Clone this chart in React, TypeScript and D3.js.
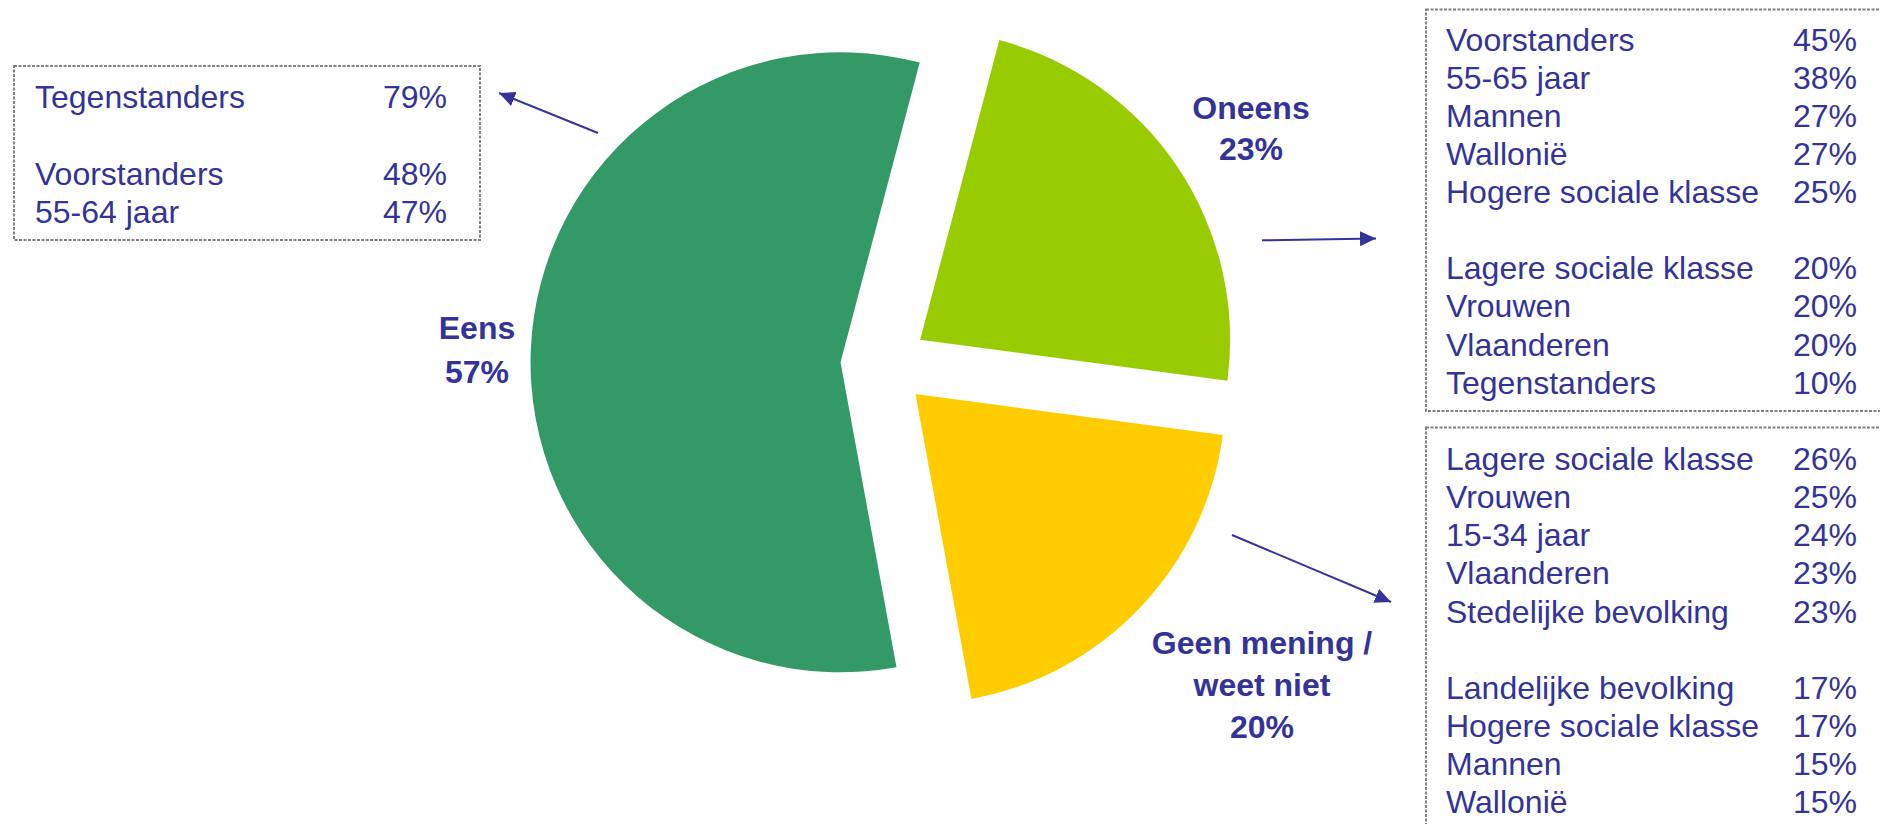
import React from "react";
import * as d3 from "d3";

// ---- data ----
const sliceNames = ["Oneens", "Geen mening / weet niet", "Eens"];
const sliceValues = [23, 20, 57];

const leftBoxLabels = ["Tegenstanders", "", "Voorstanders", "55-64 jaar"];
const leftBoxValues: (number | null)[] = [79, null, 48, 47];

const topRightLabels = [
  "Voorstanders",
  "55-65 jaar",
  "Mannen",
  "Wallonië",
  "Hogere sociale klasse",
  "",
  "Lagere sociale klasse",
  "Vrouwen",
  "Vlaanderen",
  "Tegenstanders",
];
const topRightValues: (number | null)[] = [45, 38, 27, 27, 25, null, 20, 20, 20, 10];

const bottomRightLabels = [
  "Lagere sociale klasse",
  "Vrouwen",
  "15-34 jaar",
  "Vlaanderen",
  "Stedelijke bevolking",
  "",
  "Landelijke bevolking",
  "Hogere sociale klasse",
  "Mannen",
  "Wallonië",
];
const bottomRightValues: (number | null)[] = [26, 25, 24, 23, 23, null, 17, 17, 15, 15];

// ---- styles / layout ----
const W = 1880;
const H = 824;
const sliceColors = ["#99CC00", "#FFCC00", "#339966"];
const textColor = "#333399";
const font = "'Liberation Sans', Arial, sans-serif";
const cx = 884;
const cy = 364;
const radius = 310;
const explode = 43.5;
const startDeg = 14.8;

type Box = {
  x: number;
  y: number;
  w: number;
  h: number;
  textX: number;
  valueX: number;
  firstBaseline: number;
  lineH: number;
  labels: string[];
  values: (number | null)[];
};

const boxes: Box[] = [
  {
    x: 14, y: 66, w: 466, h: 174, textX: 35, valueX: 447,
    firstBaseline: 108.3, lineH: 38.3, labels: leftBoxLabels, values: leftBoxValues,
  },
  {
    x: 1426, y: 9.5, w: 470, h: 401.5, textX: 1446, valueX: 1857,
    firstBaseline: 50.7, lineH: 38.1, labels: topRightLabels, values: topRightValues,
  },
  {
    x: 1426, y: 427.5, w: 470, h: 420, textX: 1446, valueX: 1857,
    firstBaseline: 470, lineH: 38.15, labels: bottomRightLabels, values: bottomRightValues,
  },
];

const sliceLabels = [
  { lines: ["Oneens", "23%"], x: 1251, y: 119.3, lh: 40.7 },
  { lines: ["Geen mening /", "weet niet", "20%"], x: 1262, y: 654, lh: 42 },
  { lines: ["Eens", "57%"], x: 477, y: 339.3, lh: 44 },
];

const arrows = [
  { x1: 598, y1: 133, x2: 499, y2: 93 },
  { x1: 1262, y1: 240.3, x2: 1376, y2: 238.5 },
  { x1: 1232, y1: 535, x2: 1391, y2: 602 },
];

export default function App() {
  const pie = d3
    .pie<number>()
    .sort(null)
    .startAngle((startDeg * Math.PI) / 180)
    .endAngle((startDeg * Math.PI) / 180 + 2 * Math.PI)
    .value((d) => d);
  const arcs = pie(sliceValues);
  const arcGen = d3.arc<d3.PieArcDatum<number>>().innerRadius(0).outerRadius(radius);

  return (
    <svg
      width={W}
      height={H}
      style={{ position: "absolute", left: 0, top: 0, background: "#fff" }}
      fontFamily={font}
    >
      <defs>
        <marker
          id="ah"
          viewBox="0 0 16 16"
          refX="16"
          refY="8"
          markerWidth="16"
          markerHeight="16"
          markerUnits="userSpaceOnUse"
          orient="auto"
        >
          <path d="M0,0.5 L16,8 L0,15.5 Z" fill={textColor} />
        </marker>
      </defs>
      <rect width={W} height={H} fill="#fff" />
      <g transform={`translate(${cx},${cy})`}>
        {arcs.map((a, i) => {
          const mid = (a.startAngle + a.endAngle) / 2;
          const dx = explode * Math.sin(mid);
          const dy = -explode * Math.cos(mid);
          return (
            <path
              key={sliceNames[i]}
              d={arcGen(a) || ""}
              transform={`translate(${dx},${dy})`}
              fill={sliceColors[i]}
            />
          );
        })}
      </g>
      {sliceLabels.map((l, i) => (
        <text
          key={i}
          x={l.x}
          y={l.y}
          textAnchor="middle"
          fontSize={32}
          fontWeight="bold"
          fill={textColor}
        >
          {l.lines.map((t, j) => (
            <tspan key={j} x={l.x} y={l.y + j * l.lh}>
              {t}
            </tspan>
          ))}
        </text>
      ))}
      {arrows.map((a, i) => (
        <line
          key={i}
          x1={a.x1}
          y1={a.y1}
          x2={a.x2}
          y2={a.y2}
          stroke={textColor}
          strokeWidth={2}
          markerEnd="url(#ah)"
        />
      ))}
      {boxes.map((b, i) => (
        <g key={i}>
          <rect
            x={b.x}
            y={b.y}
            width={b.w}
            height={b.h}
            fill="none"
            stroke="#808080"
            strokeWidth={2}
            strokeDasharray="3 1.5"
          />
          {b.labels.map((lab, j) =>
            lab ? (
              <g key={j} fontSize={32} fill={textColor}>
                <text x={b.textX} y={b.firstBaseline + j * b.lineH}>
                  {lab}
                </text>
                <text x={b.valueX} y={b.firstBaseline + j * b.lineH} textAnchor="end">
                  {d3.format("d")(b.values[j] as number)}%
                </text>
              </g>
            ) : null
          )}
        </g>
      ))}
    </svg>
  );
}
